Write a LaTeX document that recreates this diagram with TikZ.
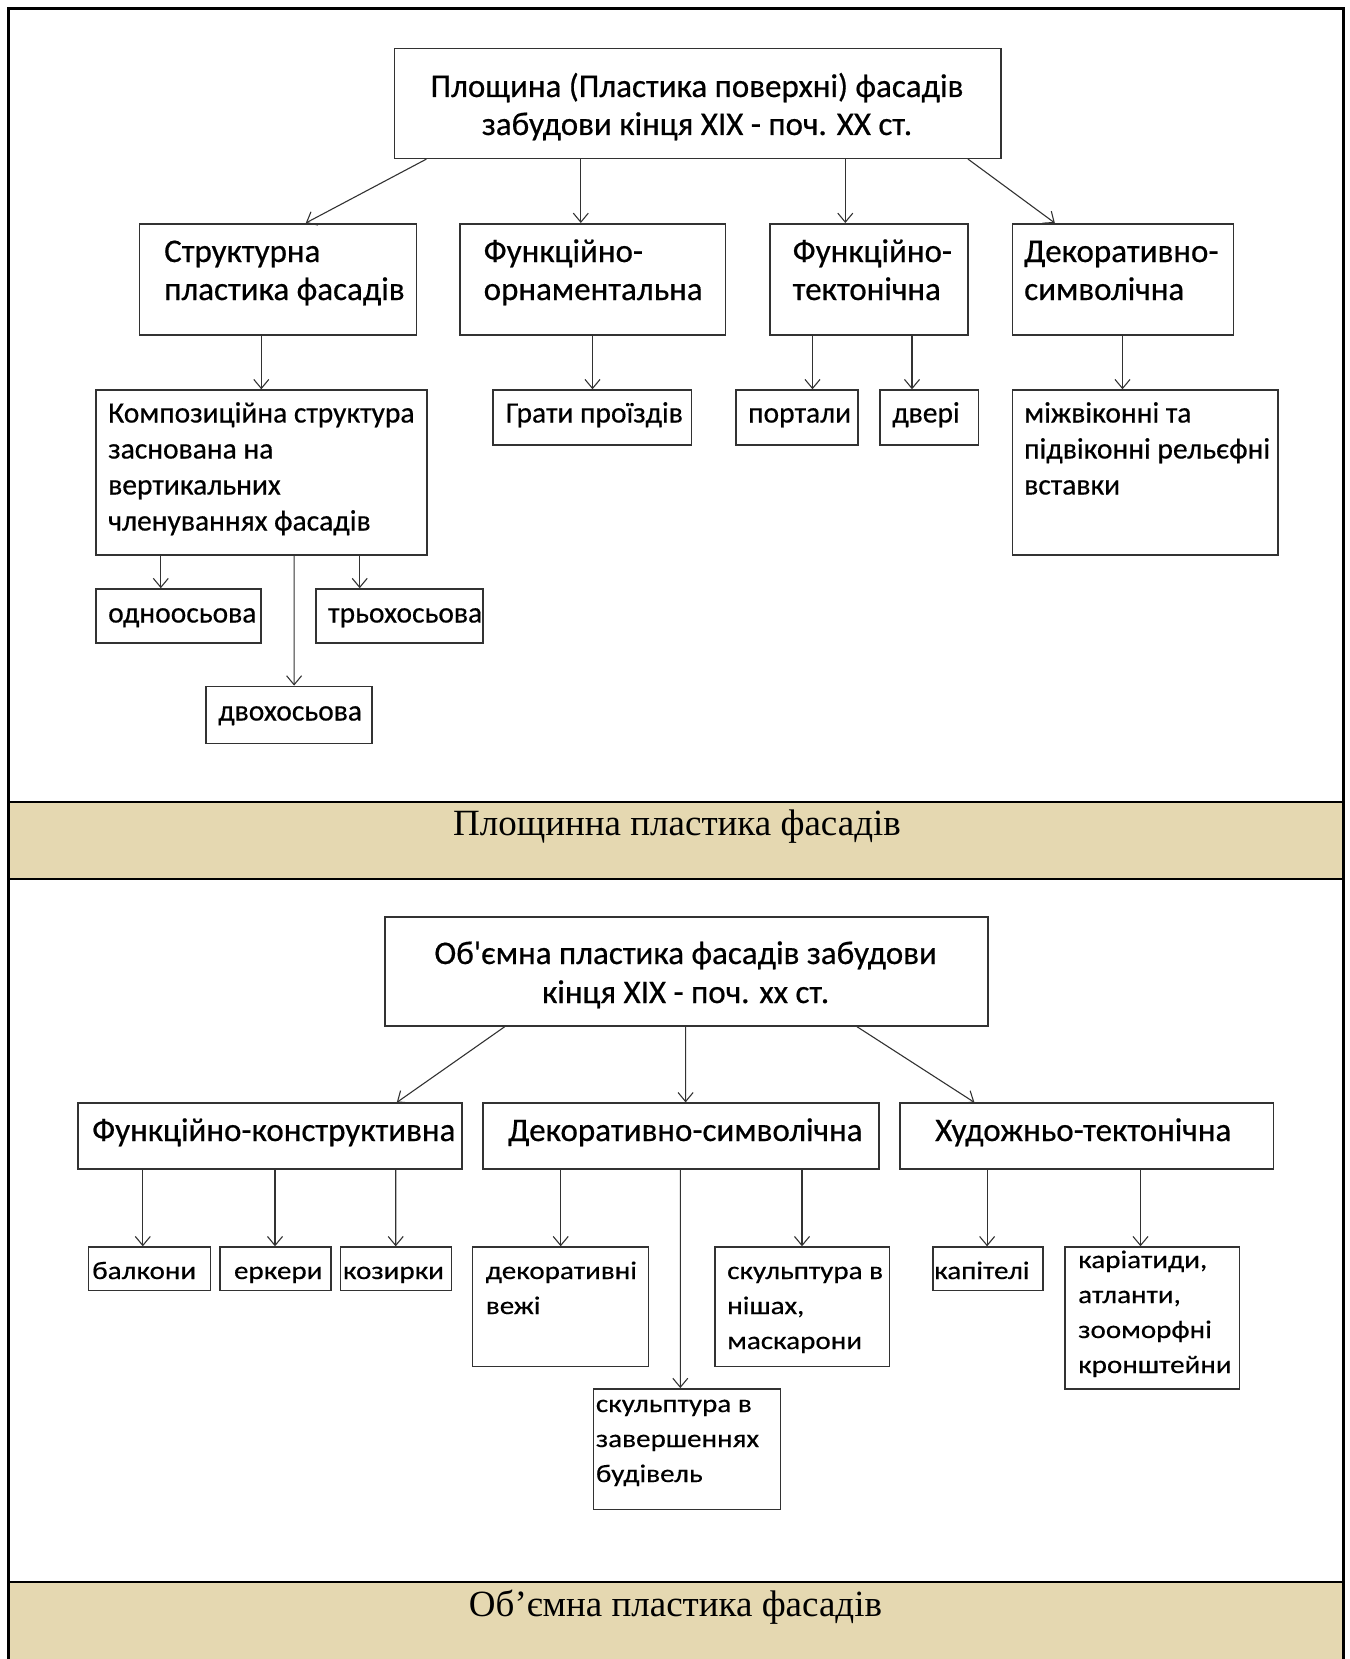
\documentclass[tikz,border=0pt]{standalone}
\usepackage{fontspec}
\newfontfamily\cf[FakeBold=0.5]{Carlito}
\newfontfamily\serifband{Liberation Serif}
\newfontfamily\widefont[FakeStretch=1.15,FakeBold=0.4]{Carlito}
\usetikzlibrary{arrows.meta,calc}
\definecolor{band}{RGB}{229,216,177}
\definecolor{ln}{RGB}{50,50,50}
\tikzset{
  box/.style={draw=ln, line width=1.5pt, inner sep=0pt, anchor=north west, fill=white},
  arr/.style={draw=ln, line width=1.1pt, -{Straight Barb[length=9pt,width=15pt,line width=1.1pt]}},
  big/.style={font=\cf\fontsize{33}{38}\selectfont, inner sep=0pt, text=black},
  mid/.style={font=\cf\fontsize{29.5}{34}\selectfont, inner sep=0pt, text=black},
  wide/.style={font=\widefont\fontsize{25.3}{30}\selectfont, inner sep=0pt, text=black},
  bandtxt/.style={font=\serifband\fontsize{37}{44}\selectfont, inner sep=0pt, text=black, anchor=base},
}
\newcommand\bx[5]{\node[box, minimum width=#4pt, minimum height=#5pt] (#1) at (#2,#3) {};}
\newcommand\txl[5]{% name, style, x, first baseline, lines
  \foreach \t [count=\i] in {#5} {\node[#2, anchor=base west] (#1-\i) at (#3,{#4+(\i-1)*\spc}) {\t};}}
\begin{document}
\begin{tikzpicture}[x=1pt,y=-1pt]
\useasboundingbox (0,0) rectangle (1349,1659);
% bands
\fill[band] (8.5,802) rectangle (1343.5,879);
\fill[band] (8.5,1582) rectangle (1343.5,1659);
\draw[line width=2.5pt] (8.5,1659) -- (8.5,8.5) -- (1343.5,8.5) -- (1343.5,1659);
\draw[line width=2.5pt] (8.5,802) -- (1343.5,802);
\draw[line width=2.5pt] (8.5,879) -- (1343.5,879);
\draw[line width=2.5pt] (8.5,1582) -- (1343.5,1582);
\node[bandtxt] (band1) at (677,835) {Площинна пластика фасадів};
\node[bandtxt] (band2) at (675.5,1616) {Об’ємна пластика фасадів};

% ===== top section boxes
\bx{T}{393.6}{47.6}{606.4}{110}
\bx{A}{138.6}{223}{277.2}{111}
\bx{B}{459}{223}{265.7}{111}
\bx{C}{769}{223}{198}{111}
\bx{D}{1011.5}{223}{221.1}{111}
\bx{A1}{95.2}{389.3}{331.2}{165.1}
\bx{B1}{492}{389.3}{198.9}{55.1}
\bx{C1}{735.3}{389.3}{121.7}{55.1}
\bx{C2}{879.2}{389.3}{98.4}{55.1}
\bx{D1}{1011.5}{389.3}{265.5}{165.1}
\bx{A11}{95.2}{588.2}{165.1}{54}
\bx{A13}{315.3}{588.2}{167.1}{54}
\bx{A12}{205.3}{685.6}{166.1}{57.1}

% texts top
\node[big, anchor=base] (T-1) at (697,97) {Площина (Пластика поверхні) фасадів};
\node[big, anchor=base] (T-2) at (697,135) {забудови кінця XIX - поч. XX ст.};
\def\spc{38}
\txl{At}{big}{164}{262}{Структурна, пластика фасадів}
\txl{Bt}{big}{483.5}{262}{Функційно-, орнаментальна}
\txl{Ct}{big}{792.5}{262}{Функційно-, тектонічна}
\txl{Dt}{big}{1024}{262}{Декоративно-, символічна}
\def\spc{36}
\txl{A1t}{mid}{108}{422.5}{Композиційна структура, заснована на, вертикальних, членуваннях фасадів}
\txl{B1t}{mid}{505.7}{422.5}{Грати проїздів}
\txl{C1t}{mid}{748}{422.5}{портали}
\txl{C2t}{mid}{892}{422.5}{двері}
\txl{D1t}{mid}{1024}{422.5}{міжвіконні та, підвіконні рельєфні, вставки}
\txl{A11t}{mid}{108}{622.5}{одноосьова}
\txl{A13t}{mid}{328}{622.5}{трьохосьова}
\txl{A12t}{mid}{218}{720.5}{двохосьова}

% arrows top
\draw[arr] ($(T.south west)+(32.8,0)$) -- ($(A.north west)+(167.2,0)$);
\draw[arr] ($(T.south west)+(187.2,0)$) -- ($(B.north west)+(121.8,0)$);
\draw[arr] ($(T.south west)+(451.7,0)$) -- ($(C.north west)+(76.3,0)$);
\draw[arr] ($(T.south west)+(574.4,0)$) -- ($(D.north west)+(43.3,0)$);
\draw[arr] ($(A.south west)+(122.7,0)$) -- ($(A1.north west)+(166.1,0)$);
\draw[arr] ($(B.south west)+(133.5,0)$) -- ($(B1.north west)+(100.5,0)$);
\draw[arr] ($(C.south west)+(43.5,0)$) -- ($(C1.north west)+(77.2,0)$);
\draw[arr] ($(C.south west)+(143,0)$) -- ($(C2.north west)+(32.8,0)$);
\draw[arr] ($(D.south west)+(111,0)$) -- ($(D1.north west)+(111,0)$);
\draw[arr] ($(A1.south west)+(65.6,0)$) -- ($(A11.north west)+(65.6,0)$);
\draw[arr] ($(A1.south west)+(264.5,0)$) -- ($(A13.north west)+(44.4,0)$);
\draw[arr] ($(A1.south west)+(198.9,0)$) -- ($(A12.north west)+(88.8,0)$);

% ===== bottom section boxes
\bx{T2}{384}{916.2}{603.1}{109}
\bx{E}{77.2}{1102.4}{384.1}{65.6}
\bx{F}{482.4}{1102.4}{395.7}{65.6}
\bx{G}{899.3}{1102.4}{373.5}{65.6}
\bx{E1}{87.8}{1246.3}{121.7}{43.4}
\bx{E2}{219}{1246.3}{111}{43.4}
\bx{E3}{339.6}{1246.3}{111.1}{43.4}
\bx{F1}{471.9}{1246.3}{175.6}{119.6}
\bx{F2}{592.5}{1388.1}{187.2}{120.6}
\bx{F3}{714.2}{1246.3}{174.5}{119.6}
\bx{G1}{932}{1246.3}{110}{43.4}
\bx{G2}{1064.3}{1246.3}{174.6}{141.8}

\node[big, anchor=base] (T2-1) at (685.6,964) {Об'ємна пластика фасадів забудови};
\node[big, anchor=base] (T2-2) at (685.6,1003) {кінця XIX - поч. хх ст.};
\node[big, anchor=base west] (Et) at (92,1141) {Функційно-конструктивна};
\node[big, anchor=base west] (Ft) at (508,1141) {Декоративно-символічна};
\node[big, anchor=base west] (Gt) at (935,1141) {Художньо-тектонічна};
\def\spc{35}
\txl{E1t}{wide}{92}{1279}{балкони}
\txl{E2t}{wide}{233.8}{1279}{еркери}
\txl{E3t}{wide}{342.8}{1279}{козирки}
\txl{F1t}{wide}{485.6}{1279}{декоративні, вежі}
\txl{F2t}{wide}{595.7}{1412}{скульптура в, завершеннях, будівель}
\txl{F3t}{wide}{727}{1279}{скульптура в, {нішах,}, маскарони}
\txl{G1t}{wide}{934}{1279}{капітелі}
\txl{G2t}{wide}{1078}{1268}{{каріатиди,}, {атланти,}, зооморфні, кронштейни}

\draw[arr] ($(T2.south west)+(120.7,0)$) -- ($(E.north west)+(319.6,0)$);
\draw[arr] ($(T2.south west)+(301.6,0)$) -- ($(F.north west)+(203.2,0)$);
\draw[arr] ($(T2.south west)+(473,0)$) -- ($(G.north west)+(75.1,0)$);
\draw[arr] ($(E.south west)+(65.6,0)$) -- ($(E1.north west)+(55,0)$);
\draw[arr] ($(E.south west)+(197.8,0)$) -- ($(E2.north west)+(56,0)$);
\draw[arr] ($(E.south west)+(318.5,0)$) -- ($(E3.north west)+(56.1,0)$);
\draw[arr] ($(F.south west)+(78.3,0)$) -- ($(F1.north west)+(88.8,0)$);
\draw[arr] ($(F.south west)+(197.9,0)$) -- ($(F2.north west)+(87.8,0)$);
\draw[arr] ($(F.south west)+(319.6,0)$) -- ($(F3.north west)+(87.8,0)$);
\draw[arr] ($(G.south west)+(87.8,0)$) -- ($(G1.north west)+(55.1,0)$);
\draw[arr] ($(G.south west)+(241.2,0)$) -- ($(G2.north west)+(76.2,0)$);
\end{tikzpicture}
\end{document}
